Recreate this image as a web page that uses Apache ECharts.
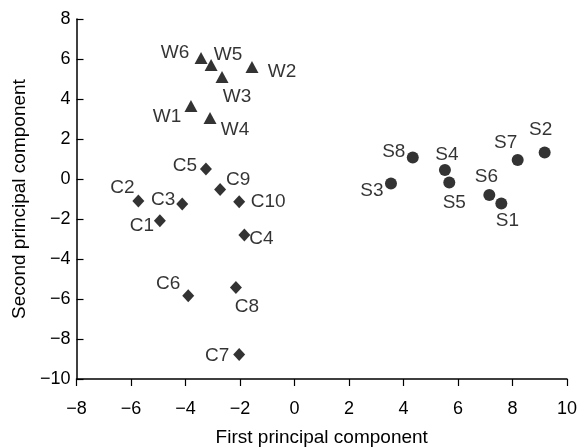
<!DOCTYPE html>
<html lang="en">
<head>
    <meta charset="UTF-8">
    <title>PCA scatter</title>
    <script src="https://cdn.jsdelivr.net/npm/echarts@6/dist/echarts.min.js"></script>
    <style>
        html, body { margin: 0; padding: 0; background: #fff; }
        #chart { width: 583px; height: 447px; }
    </style>
</head>
<body>
    <div id="chart"></div>
<script>
    // W group (triangles)
    var wNames = ['W1', 'W2', 'W3', 'W4', 'W5', 'W6'];
    var wX = [-3.8, -1.56, -2.66, -3.1, -3.06, -3.43];
    var wY = [3.65, 5.6, 5.1, 3.05, 5.7, 6.05];

    // C group (diamonds)
    var cNames = ['C1', 'C2', 'C3', 'C4', 'C5', 'C6', 'C7', 'C8', 'C9', 'C10'];
    var cX = [-4.94, -5.73, -4.12, -1.84, -3.25, -3.9, -2.03, -2.15, -2.73, -2.03];
    var cY = [-2.09, -1.1, -1.25, -2.8, 0.5, -5.84, -8.77, -5.42, -0.52, -1.14];

    // S group (circles)
    var sNames = ['S1', 'S2', 'S3', 'S4', 'S5', 'S6', 'S7', 'S8'];
    var sX = [7.59, 9.18, 3.54, 5.52, 5.68, 7.15, 8.19, 4.34];
    var sY = [-1.22, 1.32, -0.22, 0.45, -0.17, -0.8, 0.95, 1.07];

    // where each label sits relative to its point (px)
    var labelOffset = {
        W1: [-24, 11], W2: [30, 5], W3: [15, 20], W4: [25, 12], W5: [17, -10], W6: [-26, -5],
        C1: [-18, 5], C2: [-16, -13], C3: [-19, -4], C4: [17, 4], C5: [-21, -3],
        C6: [-20, -12], C7: [-22, 1], C8: [11, 19], C9: [18, -10], C10: [29, 0],
        S1: [6, 17], S2: [-4, -23], S3: [-19, 7], S4: [2, -15], S5: [5, 20],
        S6: [-3, -18], S7: [-12, -17], S8: [-19, -6]
    };

    var font = '"Liberation Sans", Arial, sans-serif';

    function points(names, xs, ys) {
        return names.map(function (n, i) {
            return {
                name: n,
                value: [xs[i], ys[i]],
                label: { offset: labelOffset[n] }
            };
        });
    }

    function minus(v) {
        return String(v).replace('-', '\u2212');
    }

    var axisLine = { onZero: false, lineStyle: { color: '#000', width: 1.5 } };
    var nameStyle = { color: '#000', fontSize: 19, fontFamily: font };
    var tickText = { color: '#000', fontSize: 18, fontFamily: font, formatter: minus };

    var label = {
        show: true,
        position: 'inside',
        formatter: '{b}',
        color: '#000',
        fontSize: 19,
        fontFamily: font
    };

    var chart = echarts.init(document.getElementById('chart'));
    chart.setOption({
        animation: false,
        backgroundColor: '#fff',
        grid: { left: 76.5, right: 16, top: 19, bottom: 68, containLabel: false, outerBoundsMode: 'none' },
        xAxis: {
            type: 'value',
            min: -8, max: 10, interval: 2,
            name: 'First principal component',
            nameLocation: 'middle',
            nameGap: 49,
            nameTextStyle: nameStyle,
            splitLine: { show: false },
            axisLine: axisLine,
            axisTick: { length: 7, lineStyle: { color: '#000', width: 1.2 } },
            axisLabel: Object.assign({ margin: 21 }, tickText)
        },
        yAxis: {
            type: 'value',
            min: -10, max: 8, interval: 2,
            name: 'Second principal component',
            nameLocation: 'middle',
            nameGap: 43,
            nameTextStyle: nameStyle,
            splitLine: { show: false },
            axisLine: axisLine,
            axisTick: { inside: true, length: 7, lineStyle: { color: '#000', width: 1.2 } },
            axisLabel: Object.assign({ margin: 6 }, tickText)
        },
        series: [
            {
                type: 'scatter',
                symbol: 'triangle',
                symbolSize: [13, 12],
                itemStyle: { color: '#000' },
                label: label,
                data: points(wNames, wX, wY)
            },
            {
                type: 'scatter',
                symbol: 'diamond',
                symbolSize: [12, 13],
                itemStyle: { color: '#000' },
                label: label,
                data: points(cNames, cX, cY)
            },
            {
                type: 'scatter',
                symbol: 'circle',
                symbolSize: 12,
                itemStyle: { color: '#000' },
                label: label,
                data: points(sNames, sX, sY)
            }
        ]
    });
</script>
</body>
</html>
